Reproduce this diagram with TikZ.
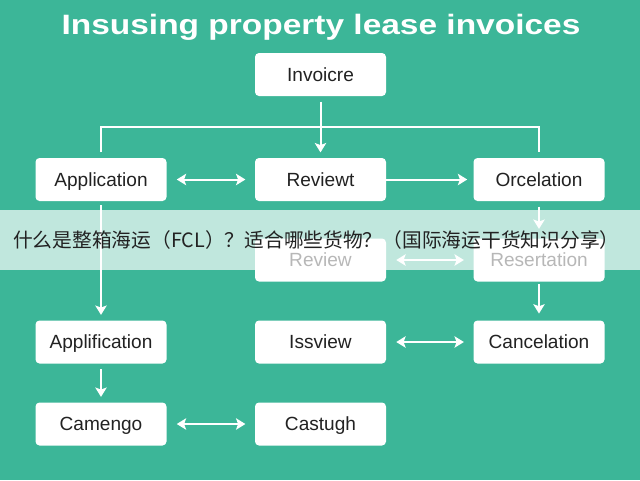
\documentclass[tikz,border=0pt]{standalone}
\usepackage{fontspec}
\setmainfont{Liberation Sans}
\newfontfamily\cjk{Noto Sans CJK SC}
\usetikzlibrary{arrows.meta}
\definecolor{bg}{RGB}{60,182,152}
\definecolor{ink}{RGB}{34,34,34}
\begin{document}
\begin{tikzpicture}[x=0.75pt,y=-0.75pt,
  box/.style={fill=white, rounded corners=3pt, minimum width=98.25pt, minimum height=32.25pt,
    text=ink, font=\fontsize{14.3}{16}\selectfont, inner sep=0pt, text height=12.5pt, text depth=2.5pt},
  conn/.style={white, line width=1.5pt},
  tip/.tip={Stealth[length=7pt,width=8.5pt,inset=1.5pt]},
  arr/.style={conn, -tip},
  darr/.style={conn, tip-tip, shorten <=7.5pt, shorten >=7pt}]
\fill[bg] (0,0) rectangle (640,480);
\useasboundingbox (0,0) rectangle (640,480);
\node[anchor=base, text=white, font=\bfseries\fontsize{21}{24}\selectfont, inner sep=0pt] (title) at (321,34) {\scalebox{1.195}[1]{Insusing property lease invoices}};
\node[box] (inv) at (320.5,74.5) {Invoicre};
\node[box] (app1) at (101,179.5) {Application};
\node[box] (rev1) at (320.5,179.5) {Reviewt};
\node[box] (orc) at (539,179.5) {Orcelation};
\node[box] (rev2) at (320.5,260) {Review};
\node[box] (res) at (539,260) {Resertation};
\node[box] (app2) at (101,342) {Applification};
\node[box] (iss) at (320.5,342) {Issview};
\node[box] (can) at (539,342) {Cancelation};
\node[box] (cam) at (101,424) {Camengo};
\node[box] (cas) at (320.5,424) {Castugh};
\coordinate (bus) at (320,127);
\draw[conn] ([yshift=4pt]app1.north) -- (app1.north |- bus) -- (orc.north |- bus) -- ([yshift=4pt]orc.north);
\draw[arr, shorten <=4pt, shorten >=4pt] (inv) -- (rev1);
\draw[darr] (app1) -- (rev1);
\draw[arr, shorten >=4.5pt] (rev1) -- (orc);
\draw[arr, shorten <=3pt, shorten >=4pt] (app1) -- (app2);
\draw[arr, shorten <=4pt, shorten >=7pt] (orc) -- (res);
\draw[darr] (rev2) -- (res);
\draw[arr, shorten <=2pt, shorten >=5pt] (res) -- (can);
\draw[darr] (iss) -- (can);
\draw[arr, shorten <=4pt, shorten >=4pt] (app2) -- (cam);
\draw[darr] (cam) -- (cas);
\fill[white, opacity=0.68] (0,210) rectangle (640,270);
\node[anchor=west, text=ink, font=\cjk\fontsize{14.8}{16}\selectfont, inner sep=0pt] (ban) at (13,240) {什么是整箱海运（FCL）？适合哪些货物？（国际海运干货知识分享）};
\end{tikzpicture}
\end{document}
